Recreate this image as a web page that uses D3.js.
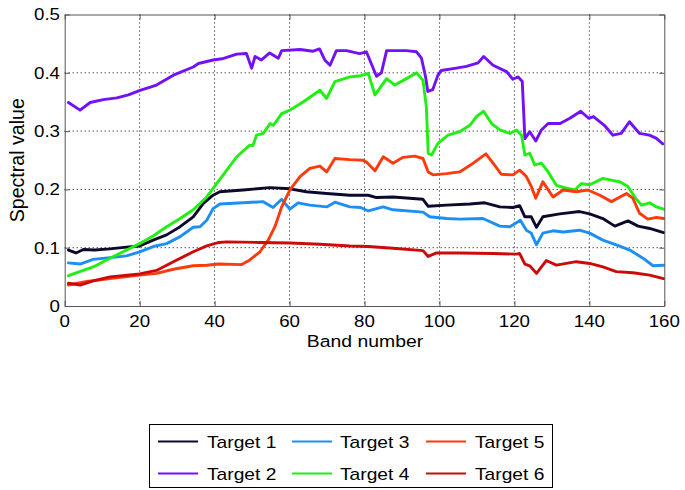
<!DOCTYPE html>
<html>
<head>
<meta charset="utf-8">
<script src="https://cdn.jsdelivr.net/npm/d3@7"></script>
<style>
  html, body { margin: 0; padding: 0; background: #fff; }
  svg { display: block; }
  text { font-family: "Liberation Sans", Arial, Helvetica, sans-serif; fill: #000; }
</style>
</head>
<body>
<svg id="chart" width="685" height="490"></svg>
<script>
// ---------- data ----------
const seriesNames = ["Target 1", "Target 2", "Target 3", "Target 4", "Target 5", "Target 6"];
const seriesColors = ["#0b0a2c", "#7211f7", "#1b8ff2", "#1fef12", "#fd3a0c", "#cc0a0a"];

const xTicks = [0, 20, 40, 60, 80, 100, 120, 140, 160];
const yTicks = [0, 0.1, 0.2, 0.3, 0.4, 0.5];
const yTickLabels = ["0", "0.1", "0.2", "0.3", "0.4", "0.5"];

// [band, spectral value]
const target1 = [[1,0.096],[3,0.091],[5,0.097],[8,0.096],[12,0.098],[16.5,0.101],[20,0.103],[23.6,0.113],[27.2,0.122],[30.8,0.136],[34.3,0.153],[37,0.176],[39.6,0.190],[41.4,0.196],[47.6,0.199],[54.8,0.203],[60.1,0.201],[64.5,0.196],[69.9,0.193],[76.1,0.190],[81,0.190],[83.2,0.186],[87.6,0.187],[95.6,0.183],[97,0.171],[101.9,0.173],[108.1,0.175],[112.1,0.177],[116.1,0.170],[119.6,0.169],[121.4,0.172],[122.8,0.153],[124.5,0.153],[125.9,0.135],[127.6,0.153],[132.1,0.158],[137.4,0.162],[140.1,0.158],[143.6,0.150],[146.8,0.137],[150.3,0.146],[153,0.137],[156.1,0.133],[159.8,0.126]];

const target2 = [[1,0.349],[4.1,0.336],[6.8,0.349],[10.3,0.354],[13.9,0.357],[17,0.362],[20.1,0.370],[24.5,0.379],[29,0.396],[34.3,0.410],[35.7,0.416],[39.6,0.422],[42,0.424],[45.9,0.432],[48.5,0.433],[49.9,0.408],[50.8,0.428],[52.5,0.422],[54.7,0.434],[57,0.425],[57.9,0.438],[62.8,0.440],[66.3,0.437],[68,0.441],[69.4,0.422],[70.8,0.413],[72.5,0.438],[75.2,0.438],[78.7,0.433],[80.5,0.436],[83.2,0.394],[84.5,0.400],[85.9,0.438],[91.2,0.438],[93.9,0.436],[95.2,0.425],[96.3,0.393],[96.9,0.368],[98.2,0.371],[99.6,0.396],[100.5,0.404],[104.5,0.408],[107.2,0.411],[110.3,0.417],[111.8,0.428],[114.3,0.413],[117.9,0.402],[119.6,0.389],[121,0.393],[122.1,0.385],[122.8,0.287],[124.1,0.299],[125.7,0.283],[127.2,0.302],[129,0.313],[132.2,0.313],[134.8,0.322],[137.7,0.334],[139.8,0.322],[141.1,0.325],[144,0.310],[146.3,0.293],[148.5,0.296],[150.7,0.316],[153.4,0.296],[156,0.293],[157.8,0.288],[159.6,0.278]];

const target3 = [[1,0.074],[4.1,0.072],[7.6,0.080],[12.1,0.083],[16.5,0.086],[20,0.093],[23.6,0.102],[27.2,0.107],[30.8,0.119],[34.3,0.135],[36.1,0.136],[37.9,0.147],[39.6,0.167],[41.4,0.175],[47.6,0.177],[53,0.179],[55.6,0.169],[57.9,0.183],[60.1,0.166],[62.3,0.177],[65.4,0.173],[69.9,0.170],[72.1,0.178],[76.1,0.170],[79,0.169],[81,0.163],[85,0.170],[87.6,0.165],[95.6,0.161],[97.4,0.153],[101.9,0.150],[105.4,0.149],[111.6,0.150],[116.1,0.137],[118.8,0.136],[121.6,0.147],[123.2,0.130],[124.5,0.125],[125.9,0.105],[127.6,0.125],[130.3,0.129],[133,0.127],[137.4,0.130],[140.1,0.125],[143.6,0.113],[147.2,0.105],[150.8,0.096],[154.3,0.082],[157,0.069],[159.8,0.070]];

const target4 = [[1,0.052],[7.6,0.067],[12.1,0.082],[16.5,0.096],[20,0.107],[23.6,0.120],[27.2,0.136],[30.8,0.150],[34.3,0.165],[37.9,0.187],[40,0.205],[42.3,0.225],[45.9,0.256],[49.4,0.276],[50.2,0.275],[51.2,0.293],[53,0.296],[54.8,0.313],[55.7,0.310],[57.9,0.330],[60.1,0.336],[63.6,0.350],[68.1,0.370],[69.9,0.356],[72.1,0.385],[76.1,0.393],[79,0.395],[81,0.399],[82.8,0.362],[85.9,0.390],[88.1,0.379],[91.2,0.390],[93.9,0.400],[95.6,0.387],[96.5,0.342],[97,0.262],[97.9,0.259],[99.6,0.279],[102.3,0.293],[105.4,0.299],[108.1,0.310],[109.9,0.325],[111.8,0.334],[113.9,0.313],[116.1,0.302],[118.8,0.296],[120.5,0.302],[121.9,0.293],[122.8,0.259],[124.1,0.262],[125.4,0.242],[127.2,0.245],[129,0.230],[131.2,0.207],[133.9,0.202],[136.1,0.199],[137.9,0.210],[140.1,0.208],[143.6,0.219],[148.1,0.213],[150.3,0.205],[152.1,0.187],[153.9,0.173],[156.1,0.177],[157.9,0.170],[159.8,0.166]];

const target5 = [[1,0.036],[5.9,0.042],[12.1,0.047],[20,0.053],[24.5,0.056],[29,0.063],[34.3,0.069],[37.9,0.070],[41,0.072],[47.2,0.071],[49.4,0.079],[52.1,0.093],[54.3,0.113],[56.1,0.136],[57.9,0.170],[60.1,0.199],[62.8,0.222],[65.4,0.236],[68.1,0.240],[69.9,0.230],[72.1,0.253],[76.1,0.251],[79.6,0.250],[80.5,0.247],[82.8,0.232],[85,0.256],[87.6,0.245],[90.3,0.255],[93.4,0.257],[95.6,0.253],[97,0.230],[98.3,0.225],[101.9,0.227],[105.4,0.230],[109,0.245],[112.4,0.261],[114.3,0.245],[116.5,0.226],[119.6,0.225],[121.4,0.233],[123.2,0.222],[124.5,0.205],[125.7,0.185],[127.6,0.213],[130.3,0.187],[133,0.199],[136.5,0.196],[139.6,0.199],[142.8,0.190],[145.9,0.179],[149.9,0.193],[151.6,0.185],[153.4,0.159],[155.6,0.149],[157.9,0.152],[159.8,0.150]];

const target6 = [[1,0.039],[4.1,0.036],[7.6,0.043],[12.1,0.050],[20,0.055],[24.5,0.061],[29,0.076],[34.3,0.093],[37.9,0.103],[41.2,0.109],[43.2,0.110],[52.1,0.109],[60.1,0.108],[68.1,0.106],[76.1,0.103],[81,0.102],[87.6,0.099],[95.6,0.095],[97,0.085],[99.2,0.091],[105.4,0.091],[114.3,0.090],[120.5,0.089],[121.4,0.090],[122.8,0.072],[124.1,0.069],[125.9,0.056],[128.5,0.078],[131.2,0.070],[136.5,0.076],[140.1,0.073],[143.6,0.067],[147.2,0.059],[151.6,0.057],[156.1,0.053],[159.8,0.047]];

const allSeries = [target1, target2, target3, target4, target5, target6];
const drawOrder = [0, 1, 2, 3, 4, 5];

// ---------- layout ----------
const svg = d3.select("#chart");
const L = 64.7, R = 664.3, T = 14.5, B = 306;
const x = d3.scaleLinear().domain([0, 160]).range([L, R]);
const y = d3.scaleLinear().domain([0, 0.5]).range([B, T]);
const SX = 1.17; // horizontal text stretch seen in the reference

function stretchedText(g, tx, ty, str, size, anchor, sx) {
  return g.append("text")
    .attr("transform", `translate(${tx},${ty}) scale(${sx},1)`)
    .attr("text-anchor", anchor)
    .attr("font-size", size)
    .text(str);
}

// grid (dotted)
const grid = svg.append("g");
xTicks.filter(t => t > 0 && t < 160).forEach(t => {
  grid.append("line").attr("x1", x(t)).attr("x2", x(t)).attr("y1", T).attr("y2", B)
    .attr("stroke", "#000").attr("stroke-width", 1).attr("stroke-dasharray", "1,3");
});
yTicks.filter(t => t > 0 && t < 0.5).forEach(t => {
  grid.append("line").attr("x1", L).attr("x2", R).attr("y1", y(t)).attr("y2", y(t))
    .attr("stroke", "#000").attr("stroke-width", 1).attr("stroke-dasharray", "1,3");
});

// data lines
const line = d3.line().x(d => x(d[0])).y(d => y(d[1]));
const plot = svg.append("g");
drawOrder.forEach(i => {
  plot.append("path").datum(allSeries[i])
    .attr("fill", "none")
    .attr("stroke", seriesColors[i])
    .attr("stroke-width", 2.9)
    .attr("stroke-linejoin", "round")
    .attr("stroke-linecap", "round")
    .attr("d", line);
});

// axes (MATLAB-style inward ticks, box)
const axColor = "#555";
const tickLen = 5;
const xAxisB = d3.axisBottom(x).tickValues(xTicks).tickSizeInner(-tickLen).tickSizeOuter(0).tickFormat("");
const xAxisT = d3.axisTop(x).tickValues(xTicks).tickSizeInner(-tickLen).tickSizeOuter(0).tickFormat("");
const yAxisL = d3.axisLeft(y).tickValues(yTicks).tickSizeInner(-tickLen).tickSizeOuter(0).tickFormat("");
const yAxisR = d3.axisRight(y).tickValues(yTicks).tickSizeInner(-tickLen).tickSizeOuter(0).tickFormat("");
[[xAxisB, `translate(0,${B})`], [xAxisT, `translate(0,${T})`], [yAxisL, `translate(${L},0)`], [yAxisR, `translate(${R},0)`]]
  .forEach(([ax, tr]) => {
    const g = svg.append("g").attr("transform", tr).call(ax);
    g.selectAll("path, line").attr("stroke", axColor).attr("stroke-width", 1);
  });

// tick labels
const lab = svg.append("g");
xTicks.forEach(t => stretchedText(lab, x(t), 327.3, String(t), 16, "middle", SX));
yTicks.forEach((t, i) => stretchedText(lab, 60, y(t) + 5.8, yTickLabels[i], 16, "end", SX));

// axis titles
stretchedText(lab, 365, 347, "Band number", 17, "middle", 1.14);
lab.append("text")
  .attr("transform", `translate(24,${(T + B) / 2}) rotate(-90) scale(1.12,1.12)`)
  .attr("text-anchor", "middle")
  .attr("font-size", 17.5)
  .text("Spectral value");

// legend
const leg = svg.append("g");
leg.append("rect").attr("x", 149.5).attr("y", 424.5).attr("width", 403).attr("height", 63)
  .attr("fill", "#fff").attr("stroke", "#000").attr("stroke-width", 1);
const colLineX = [158, 292, 426];
const colTextX = [207, 340, 475];
const rowY = [441.5, 473.5];
seriesNames.forEach((name, i) => {
  const c = Math.floor(i / 2), r = i % 2;
  leg.append("line").attr("x1", colLineX[c]).attr("x2", colLineX[c] + 40)
    .attr("y1", rowY[r]).attr("y2", rowY[r])
    .attr("stroke", seriesColors[i]).attr("stroke-width", 2);
  stretchedText(leg, colTextX[c], rowY[r] + 6, name, 16, "start", 1.2);
});
</script>
</body>
</html>
